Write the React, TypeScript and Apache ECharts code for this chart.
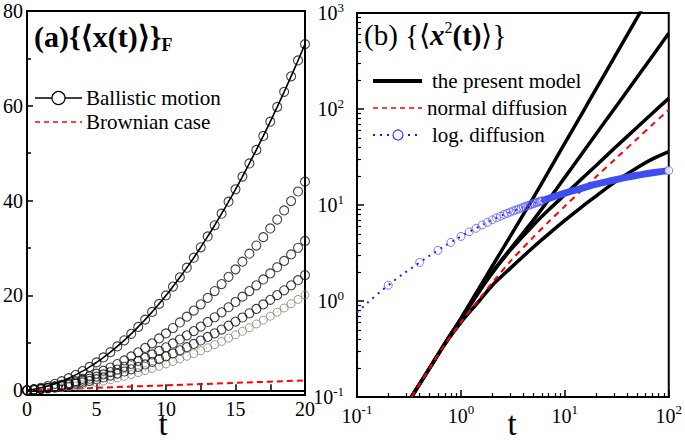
import React, { useEffect, useRef } from 'react';
import * as echarts from 'echarts';

const FONT = 'Liberation Serif';

// ---------- Panel (a): <x(t)>_F ----------
const leftT = [0, 0.5, 1, 1.5, 2, 2.5, 3, 3.5, 4, 4.5, 5, 5.5, 6, 6.5, 7, 7.5, 8, 8.5, 9, 9.5, 10,
  10.5, 11, 11.5, 12, 12.5, 13, 13.5, 14, 14.5, 15, 15.5, 16, 16.5, 17, 17.5, 18, 18.5, 19, 19.5, 20];
const ballistic = [0, 0.22, 0.52, 0.9, 1.36, 1.91, 2.54, 3.25, 4.04, 4.92, 5.88, 6.92, 8.04, 9.25, 10.54,
  11.91, 13.36, 14.9, 16.52, 18.22, 20.0, 21.87, 23.82, 25.85, 27.96, 30.16, 32.44, 34.8, 37.24, 39.77,
  42.38, 45.07, 47.84, 50.7, 53.64, 56.66, 59.76, 62.95, 66.22, 69.57, 73.0];
const modelL2 = [0, 0.13, 0.3, 0.53, 0.8, 1.13, 1.5, 1.93, 2.4, 2.93, 3.5, 4.13, 4.8, 5.53, 6.3, 7.13, 8.0,
  8.93, 9.9, 10.93, 12.0, 13.13, 14.3, 15.53, 16.8, 18.13, 19.5, 20.93, 22.4, 23.93, 25.5, 27.13, 28.8,
  30.53, 32.3, 34.13, 36.0, 37.93, 39.9, 41.93, 44.0];
const modelL3 = [0, 0.14, 0.31, 0.51, 0.75, 1.02, 1.32, 1.66, 2.02, 2.43, 2.87, 3.34, 3.84, 4.38, 4.95,
  5.55, 6.19, 6.86, 7.56, 8.3, 9.07, 9.87, 10.71, 11.58, 12.49, 13.43, 14.4, 15.4, 16.44, 17.51, 18.62,
  19.75, 20.92, 22.13, 23.37, 24.64, 25.95, 27.28, 28.66, 30.06, 31.5];
const modelL4 = [0, 0.12, 0.27, 0.44, 0.63, 0.85, 1.1, 1.37, 1.66, 1.98, 2.33, 2.7, 3.09, 3.51, 3.96, 4.43,
  4.92, 5.44, 5.99, 6.56, 7.15, 7.77, 8.42, 9.09, 9.78, 10.5, 11.25, 12.02, 12.81, 13.63, 14.48, 15.35,
  16.24, 17.16, 18.11, 19.08, 20.07, 21.09, 22.14, 23.21, 24.3];
const modelL5 = [0, 0.06, 0.15, 0.26, 0.39, 0.54, 0.72, 0.92, 1.14, 1.38, 1.65, 1.94, 2.25, 2.58, 2.94,
  3.32, 3.72, 4.14, 4.59, 5.06, 5.55, 6.06, 6.6, 7.16, 7.74, 8.34, 8.97, 9.62, 10.29, 10.98, 11.7, 12.44,
  13.2, 13.98, 14.79, 15.62, 16.47, 17.34, 18.24, 19.16, 20.1];
const brownT = [0, 2.5, 5, 7.5, 10, 12.5, 15, 17.5, 20];
const brownY = [0, 0.26, 0.52, 0.78, 1.04, 1.3, 1.56, 1.82, 2.08];

// ---------- Panel (b): <x^2(t)> ----------
const rightT = [0.334, 0.5, 0.7, 1, 1.5, 2, 3, 5, 7, 10, 15, 20, 30, 50, 70, 100];
const modelA = [0.1, 0.2, 0.36, 0.66, 1.37, 2.3, 4.77, 12.0, 22.5, 44.0, 94, 162, 347, 908, 1710, 3340];
const modelB = [0.1, 0.2, 0.36, 0.65, 1.3, 2.0, 3.5, 7.0, 11.4, 19.4, 35.6, 54.9, 100.8, 217, 359, 615];
const modelC = [0.1, 0.2, 0.36, 0.64, 1.25, 1.95, 3.4, 6.2, 8.9, 12.8, 19.3, 25.8, 39, 65, 91, 129];
const modelD = [0.1, 0.2, 0.355, 0.6, 1.0, 1.45, 2.2, 3.65, 5.0, 6.9, 9.8, 12.4, 17.2, 24.6, 30.2, 36];
const normalDiff = [0.1, 0.2, 0.35, 0.6, 1.05, 1.55, 2.6, 4.65, 6.7, 9.7, 14.7, 19.7, 29.6, 49.3, 69, 98];

const logT = [0.1, 0.2, 0.4, 0.6, 0.8, 1.0, 1.2, 1.4, 1.6, 1.8, 2.0, 2.2, 2.4, 2.6, 2.8, 3.0, 3.2, 3.4, 3.6,
  3.8, 4.0, 4.2, 4.4, 4.6, 4.8, 5.0, 5.2, 5.4, 5.6, 5.8, 6.0, 8, 10, 15, 20, 30, 40, 50, 70, 100];
const logY = [0.76, 1.46, 2.52, 3.37, 4.08, 4.7, 5.25, 5.72, 6.2, 6.6, 7.0, 7.35, 7.65, 7.95, 8.2, 8.45,
  8.7, 8.9, 9.1, 9.3, 9.5, 9.7, 9.85, 10.0, 10.2, 10.35, 10.5, 10.65, 10.8, 10.9, 11.05, 12.3, 13.3, 15.1,
  16.5, 18.2, 19.5, 20.4, 21.7, 22.8];

// ---------- Tick positions ----------
const leftXTicks = [0, 5, 10, 15, 20];
const leftYMajor = [0, 20, 40, 60, 80];
const leftYMinor = [10, 30, 50, 70];
const rightXMajor = [0.1, 1, 10, 100];
const rightXMinor = [0.2, 0.3, 0.4, 0.5, 0.6, 0.7, 0.8, 0.9, 2, 3, 4, 5, 6, 7, 8, 9, 20, 30, 40, 50, 60, 70, 80, 90];
const rightYMajor = [0.1, 1, 10, 100, 1000];
const rightYMinor = [0.2, 0.3, 0.4, 0.5, 0.6, 0.7, 0.8, 0.9, 2, 3, 4, 5, 6, 7, 8, 9, 20, 30, 40, 50, 60, 70, 80, 90,
  200, 300, 400, 500, 600, 700, 800, 900];

const pairs = (xs: number[], ys: number[]) => xs.map((x, i) => [x, ys[i]]);

const expLabel = (v: number) => `{b|10}{s|${Math.round(Math.log10(v))}}`;
const expRich = {
  b: { fontSize: 20, fontFamily: FONT, color: '#000' },
  s: { fontSize: 13, fontFamily: FONT, color: '#000', padding: [0, 0, 12, 0] },
};
const numLabel = (v: number) => `{n|${v}}`;
const numRich = { n: { fontSize: 20, fontFamily: FONT, color: '#000' } };

const black = '#000';

export default function App() {
  const ref = useRef<HTMLDivElement>(null);
  useEffect(() => {
    if (!ref.current) return;
    const chart = echarts.init(ref.current, null, { renderer: 'svg' });

    const circleSeries = (name: string, ys: number[], color: string, size: number, bw: number) => ({
      name, type: 'scatter', xAxisIndex: 0, yAxisIndex: 0, data: pairs(leftT, ys),
      symbol: 'circle', symbolSize: size,
      itemStyle: { color: 'rgba(255,255,255,0)', borderColor: color, borderWidth: bw },
      z: 3,
    });

    const blueCircleIdx = logT.map((t, i) => i).filter((i) => (logT[i] >= 0.2 && logT[i] <= 6.0));
    const blueCircles = blueCircleIdx.map((i) => [logT[i], logY[i]]);
    const lastBlue = { value: [logT[logT.length - 1], logY[logY.length - 1]], itemStyle: { color: '#fff' } };
    const bandIdx = logT.map((t, i) => i).filter((i) => logT[i] >= 6.0);
    const band = bandIdx.map((i) => [logT[i], logY[i]]);

    const txt = (x: number, y: number, text: string, size = 21, extra: any = {}) => ({
      type: 'text', x, y, z: 100,
      style: {
        text: `{n|${text}}`, fontSize: size, fontFamily: FONT, fill: black, verticalAlign: 'middle', ...extra,
        rich: { n: { fontSize: size, fontFamily: FONT, fill: black } },
      },
    });

    const option: any = {
      animation: false,
      backgroundColor: '#fff',
      textStyle: { fontFamily: FONT },
      grid: [
        { left: 24, top: 11, width: 281, height: 384, show: true, borderColor: black, borderWidth: 2, backgroundColor: 'transparent' },
        { left: 357, top: 13, width: 315, height: 384, show: true, borderColor: black, borderWidth: 2, backgroundColor: 'transparent' },
      ],
      xAxis: [
        {
          gridIndex: 0, type: 'value', min: 0, max: 20, interval: 5,
          axisLine: { lineStyle: { color: black, width: 2 } },
          axisTick: { inside: true, length: 6, lineStyle: { color: black, width: 1.5 }, customValues: leftXTicks },
          minorTick: { show: true, splitNumber: 2, length: 6, lineStyle: { color: black, width: 1.5 } },
          axisLabel: { color: black, margin: 4, formatter: numLabel, rich: numRich, customValues: leftXTicks },
          splitLine: { show: false }, minorSplitLine: { show: false },
        },
        {
          gridIndex: 1, type: 'log', logBase: 10, min: 0.1, max: 100,
          axisLine: { lineStyle: { color: black, width: 2 } },
          axisTick: { inside: true, length: 7, lineStyle: { color: black, width: 1.5 }, customValues: rightXMajor },
          axisLabel: { color: black, margin: 6, formatter: expLabel, rich: expRich, customValues: rightXMajor },
          splitLine: { show: false },
        },
        {
          gridIndex: 1, type: 'log', logBase: 10, min: 0.1, max: 100, position: 'bottom', offset: 0,
          axisLine: { show: false },
          axisTick: { inside: true, length: 4, lineStyle: { color: black, width: 1.2 }, customValues: rightXMinor },
          axisLabel: { show: false },
          splitLine: { show: false },
        },
      ],
      yAxis: [
        {
          gridIndex: 0, type: 'value', min: -1, max: 80,
          axisLine: { lineStyle: { color: black, width: 2 } },
          axisTick: { inside: true, length: 6, lineStyle: { color: black, width: 1.5 }, customValues: leftYMajor },
          axisLabel: { color: black, margin: 4, formatter: numLabel, rich: numRich, customValues: leftYMajor },
          splitLine: { show: false },
        },
        {
          gridIndex: 0, type: 'value', min: -1, max: 80, position: 'left', offset: 0,
          axisLine: { show: false },
          axisTick: { inside: true, length: 4, lineStyle: { color: black, width: 1.5 }, customValues: leftYMinor },
          axisLabel: { show: false },
          splitLine: { show: false },
        },
        {
          gridIndex: 1, type: 'log', logBase: 10, min: 0.1, max: 1000,
          axisLine: { lineStyle: { color: black, width: 2 } },
          axisTick: { inside: true, length: 7, lineStyle: { color: black, width: 1.5 }, customValues: rightYMajor },
          axisLabel: { color: black, margin: 13, formatter: expLabel, rich: expRich, customValues: rightYMajor },
          splitLine: { show: false },
        },
        {
          gridIndex: 1, type: 'log', logBase: 10, min: 0.1, max: 1000, position: 'left', offset: 0,
          axisLine: { show: false },
          axisTick: { inside: true, length: 4, lineStyle: { color: black, width: 1.2 }, customValues: rightYMinor },
          axisLabel: { show: false },
          splitLine: { show: false },
        },
      ],
      series: [
        // Panel (a)
        {
          name: 'Brownian case', type: 'line', xAxisIndex: 0, yAxisIndex: 0, data: pairs(brownT, brownY),
          showSymbol: false, lineStyle: { color: '#ff0000', width: 2, type: [6, 4] }, z: 2,
        },
        circleSeries('model 5', modelL5, '#808080', 8, 1),
        {
          name: 'model 5 line', type: 'line', xAxisIndex: 0, yAxisIndex: 0, data: pairs(leftT, modelL5),
          showSymbol: false, lineStyle: { color: '#c8c800', width: 1, type: [1, 4] }, z: 2,
        },
        circleSeries('model 4', modelL4, '#111', 9, 1.1),
        circleSeries('model 3', modelL3, '#111', 9, 1.1),
        circleSeries('model 2', modelL2, '#111', 9, 1.1),
        {
          name: 'Ballistic motion', type: 'line', xAxisIndex: 0, yAxisIndex: 0, data: pairs(leftT, ballistic),
          showSymbol: false, smooth: true, lineStyle: { color: black, width: 1.6 }, z: 4,
        },
        circleSeries('Ballistic circles', ballistic, '#111', 9, 1.1),
        // Panel (b)
        ...[modelA, modelB, modelC, modelD].map((ys, k) => ({
          name: 'the present model ' + k, type: 'line', xAxisIndex: 1, yAxisIndex: 2, data: pairs(rightT, ys),
          showSymbol: false, smooth: 0.3, lineStyle: { color: black, width: 3.5 }, z: 2,
        })),
        {
          name: 'normal diffusion', type: 'line', xAxisIndex: 1, yAxisIndex: 2, data: pairs(rightT, normalDiff),
          showSymbol: false, smooth: 0.3, lineStyle: { color: '#ff0000', width: 2, type: [6, 5] }, z: 3,
        },
        {
          name: 'log. diffusion dots', type: 'line', xAxisIndex: 1, yAxisIndex: 2, data: pairs(logT, logY),
          showSymbol: false, smooth: true, lineStyle: { color: '#1515ff', width: 2, type: [2, 5] }, z: 4,
        },
        {
          name: 'log. diffusion band', type: 'line', xAxisIndex: 1, yAxisIndex: 2, data: band,
          showSymbol: false, smooth: true, lineStyle: { color: '#3f4ef0', width: 7 }, z: 5,
        },
        {
          name: 'log. diffusion', type: 'scatter', xAxisIndex: 1, yAxisIndex: 2, data: [...blueCircles, lastBlue],
          symbol: 'circle', symbolSize: 8,
          itemStyle: { color: 'rgba(255,255,255,0)', borderColor: '#5a5aff', borderWidth: 1 }, z: 6,
        },
      ],
      graphic: [
        // titles
        {
          type: 'text', x: 34, y: 18, z: 100,
          style: {
            text: '{m|(a)}{m|{⟨x(t)⟩}}{f|F}', fontSize: 30, fontWeight: 'bold', fontFamily: FONT, fill: black,
            rich: {
              m: { fontSize: 30, fontWeight: 'bold', fontFamily: FONT, fill: black },
              f: { fontSize: 18, fontWeight: 'bold', fontFamily: FONT, fill: black, padding: [18, 0, 0, 0] },
            },
          },
        },
        {
          type: 'text', x: 364, y: 19, z: 100,
          style: {
            text: '{r|(b) }{r|{⟨}{x|x}{s|2}{t|(t)}{r|⟩}}', fontSize: 29, fontFamily: FONT, fill: black,
            rich: {
              r: { fontSize: 29, fontFamily: FONT, fill: black },
              x: { fontSize: 29, fontFamily: FONT, fontStyle: 'italic', fontWeight: 'bold', fill: black },
              s: { fontSize: 16, fontFamily: FONT, fill: black, padding: [0, 0, 16, 0] },
              t: { fontSize: 29, fontFamily: FONT, fontWeight: 'bold', fill: black },
            },
          },
        },
        // axis names
        txt(163, 440, 't', 33, { align: 'center', verticalAlign: 'bottom' }),
        txt(512, 440, 't', 33, { align: 'center', verticalAlign: 'bottom' }),
        // legend (a)
        { type: 'line', shape: { x1: 35, y1: 98, x2: 82, y2: 98 }, style: { stroke: black, lineWidth: 1.5 } },
        { type: 'circle', shape: { cx: 58.5, cy: 98, r: 6.5 }, style: { fill: '#fff', stroke: black, lineWidth: 1.2 } },
        txt(86, 98, 'Ballistic motion'),
        { type: 'line', shape: { x1: 35, y1: 122, x2: 82, y2: 122 }, style: { stroke: '#ff0000', lineWidth: 1.5, lineDash: [5, 4] } },
        txt(86, 122, 'Brownian case'),
        // legend (b)
        { type: 'line', shape: { x1: 373, y1: 81, x2: 422, y2: 81 }, style: { stroke: black, lineWidth: 4 } },
        txt(432, 81, 'the present model'),
        { type: 'line', shape: { x1: 373, y1: 108, x2: 422, y2: 108 }, style: { stroke: '#ff0000', lineWidth: 1.5, lineDash: [5, 4] } },
        txt(427, 108, 'normal diffusion'),
        { type: 'line', shape: { x1: 373, y1: 135, x2: 422, y2: 135 }, style: { stroke: '#1515ff', lineWidth: 2, lineDash: [2, 5] } },
        { type: 'circle', shape: { cx: 398, cy: 135, r: 5 }, style: { fill: '#fff', stroke: '#3a3aff', lineWidth: 1.2 } },
        txt(432, 135, 'log. diffusion'),
      ],
    };
    chart.setOption(option);
    return () => chart.dispose();
  }, []);
  return <div ref={ref} style={{ width: 685, height: 440, position: 'absolute', left: 0, top: 0 }} />;
}
